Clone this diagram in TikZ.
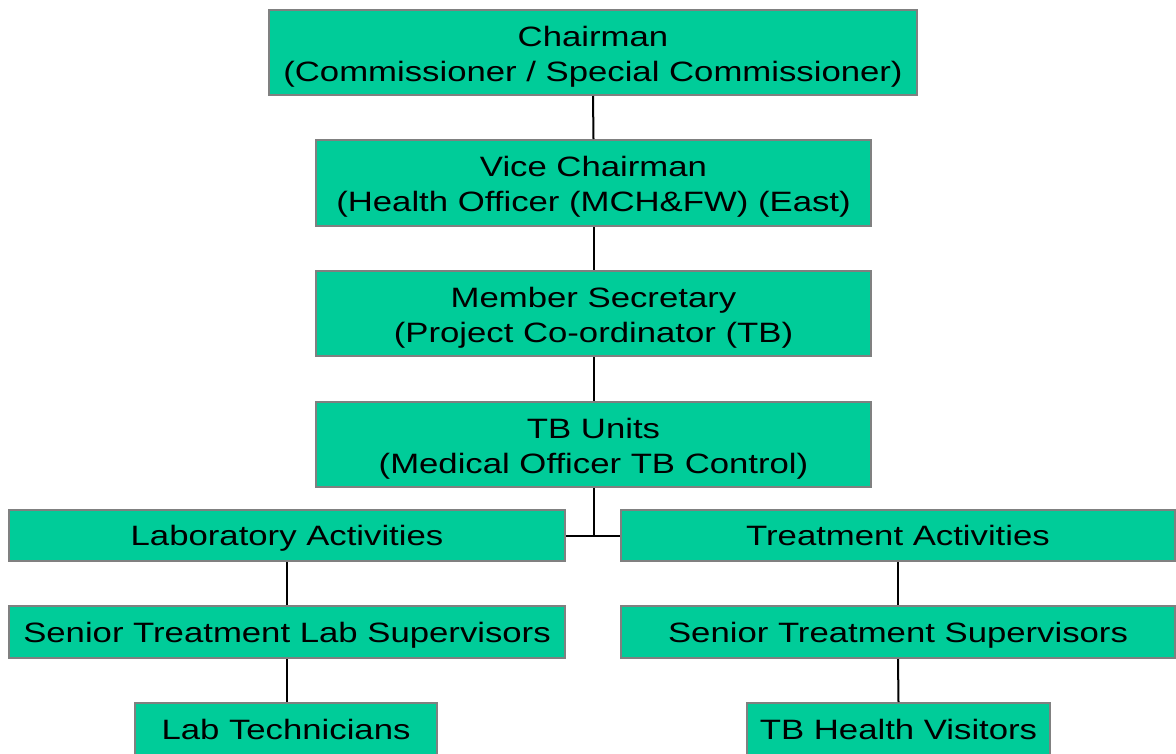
\documentclass[tikz,border=0pt]{standalone}
\usepackage{fontspec}
\setmainfont{Liberation Sans}[FakeStretch=1.24]
\definecolor{boxfill}{RGB}{0,204,153}
\definecolor{boxline}{RGB}{128,128,128}
\begin{document}
\begin{tikzpicture}[x=1pt,y=1pt,
  orgbox/.style={draw=boxline, line width=2pt, fill=boxfill, inner sep=0pt,
    align=center, font=\fontsize{28}{35}\selectfont, text=black},
  onebox/.style={orgbox, text height=20.5pt, text depth=0pt},
  twobox/.style={orgbox, text height=57pt, text depth=0pt},
  link/.style={draw=black, line width=2pt}]
\useasboundingbox (0,0) rectangle (1176,-753);
\clip (0,0) rectangle (1176,-753);
\node[twobox, minimum width=648pt, minimum height=85pt] (chair) at (593,-52.5) {Chairman\\(Commissioner / Special Commissioner)};
\node[twobox, minimum width=555pt, minimum height=86pt] (vice) at (593.5,-183) {Vice Chairman\\(Health Officer (MCH\&FW) (East)};
\node[twobox, minimum width=555pt, minimum height=85pt] (memb) at (593.5,-313.5) {Member Secretary\\(Project Co-ordinator (TB)};
\node[twobox, minimum width=555pt, minimum height=85pt] (tbu) at (593.5,-444.5) {TB Units\\(Medical Officer TB Control)};
\node[onebox, minimum width=556pt, minimum height=51pt] (lab) at (287,-535.5) {Laboratory Activities};
\node[onebox, minimum width=554pt, minimum height=51pt] (treat) at (898,-535.5) {Treatment Activities};
\node[onebox, minimum width=556pt, minimum height=52pt] (slab) at (287,-632) {Senior Treatment Lab Supervisors};
\node[onebox, minimum width=554pt, minimum height=52pt] (streat) at (898,-632) {Senior Treatment Supervisors};
\node[onebox, minimum width=302pt, minimum height=52pt] (tech) at (286,-729) {Lab Technicians};
\node[onebox, minimum width=303pt, minimum height=52pt] (vis) at (898.5,-729) {TB Health Visitors};
\coordinate (junc) at (593.5,-535.5);
\draw[link] (chair.south) -- (vice.north);
\draw[link] (vice.south) -- (memb.north);
\draw[link] (memb.south) -- (tbu.north);
\draw[link] (tbu.south) -- (junc);
\draw[link] (lab.east) -- (treat.west);
\draw[link] (lab.south) -- (slab.north);
\draw[link] (treat.south) -- (streat.north);
\draw[link] (slab.south) -- (slab.south|-tech.north);
\draw[link] (streat.south) -- (vis.north);
\end{tikzpicture}
\end{document}
